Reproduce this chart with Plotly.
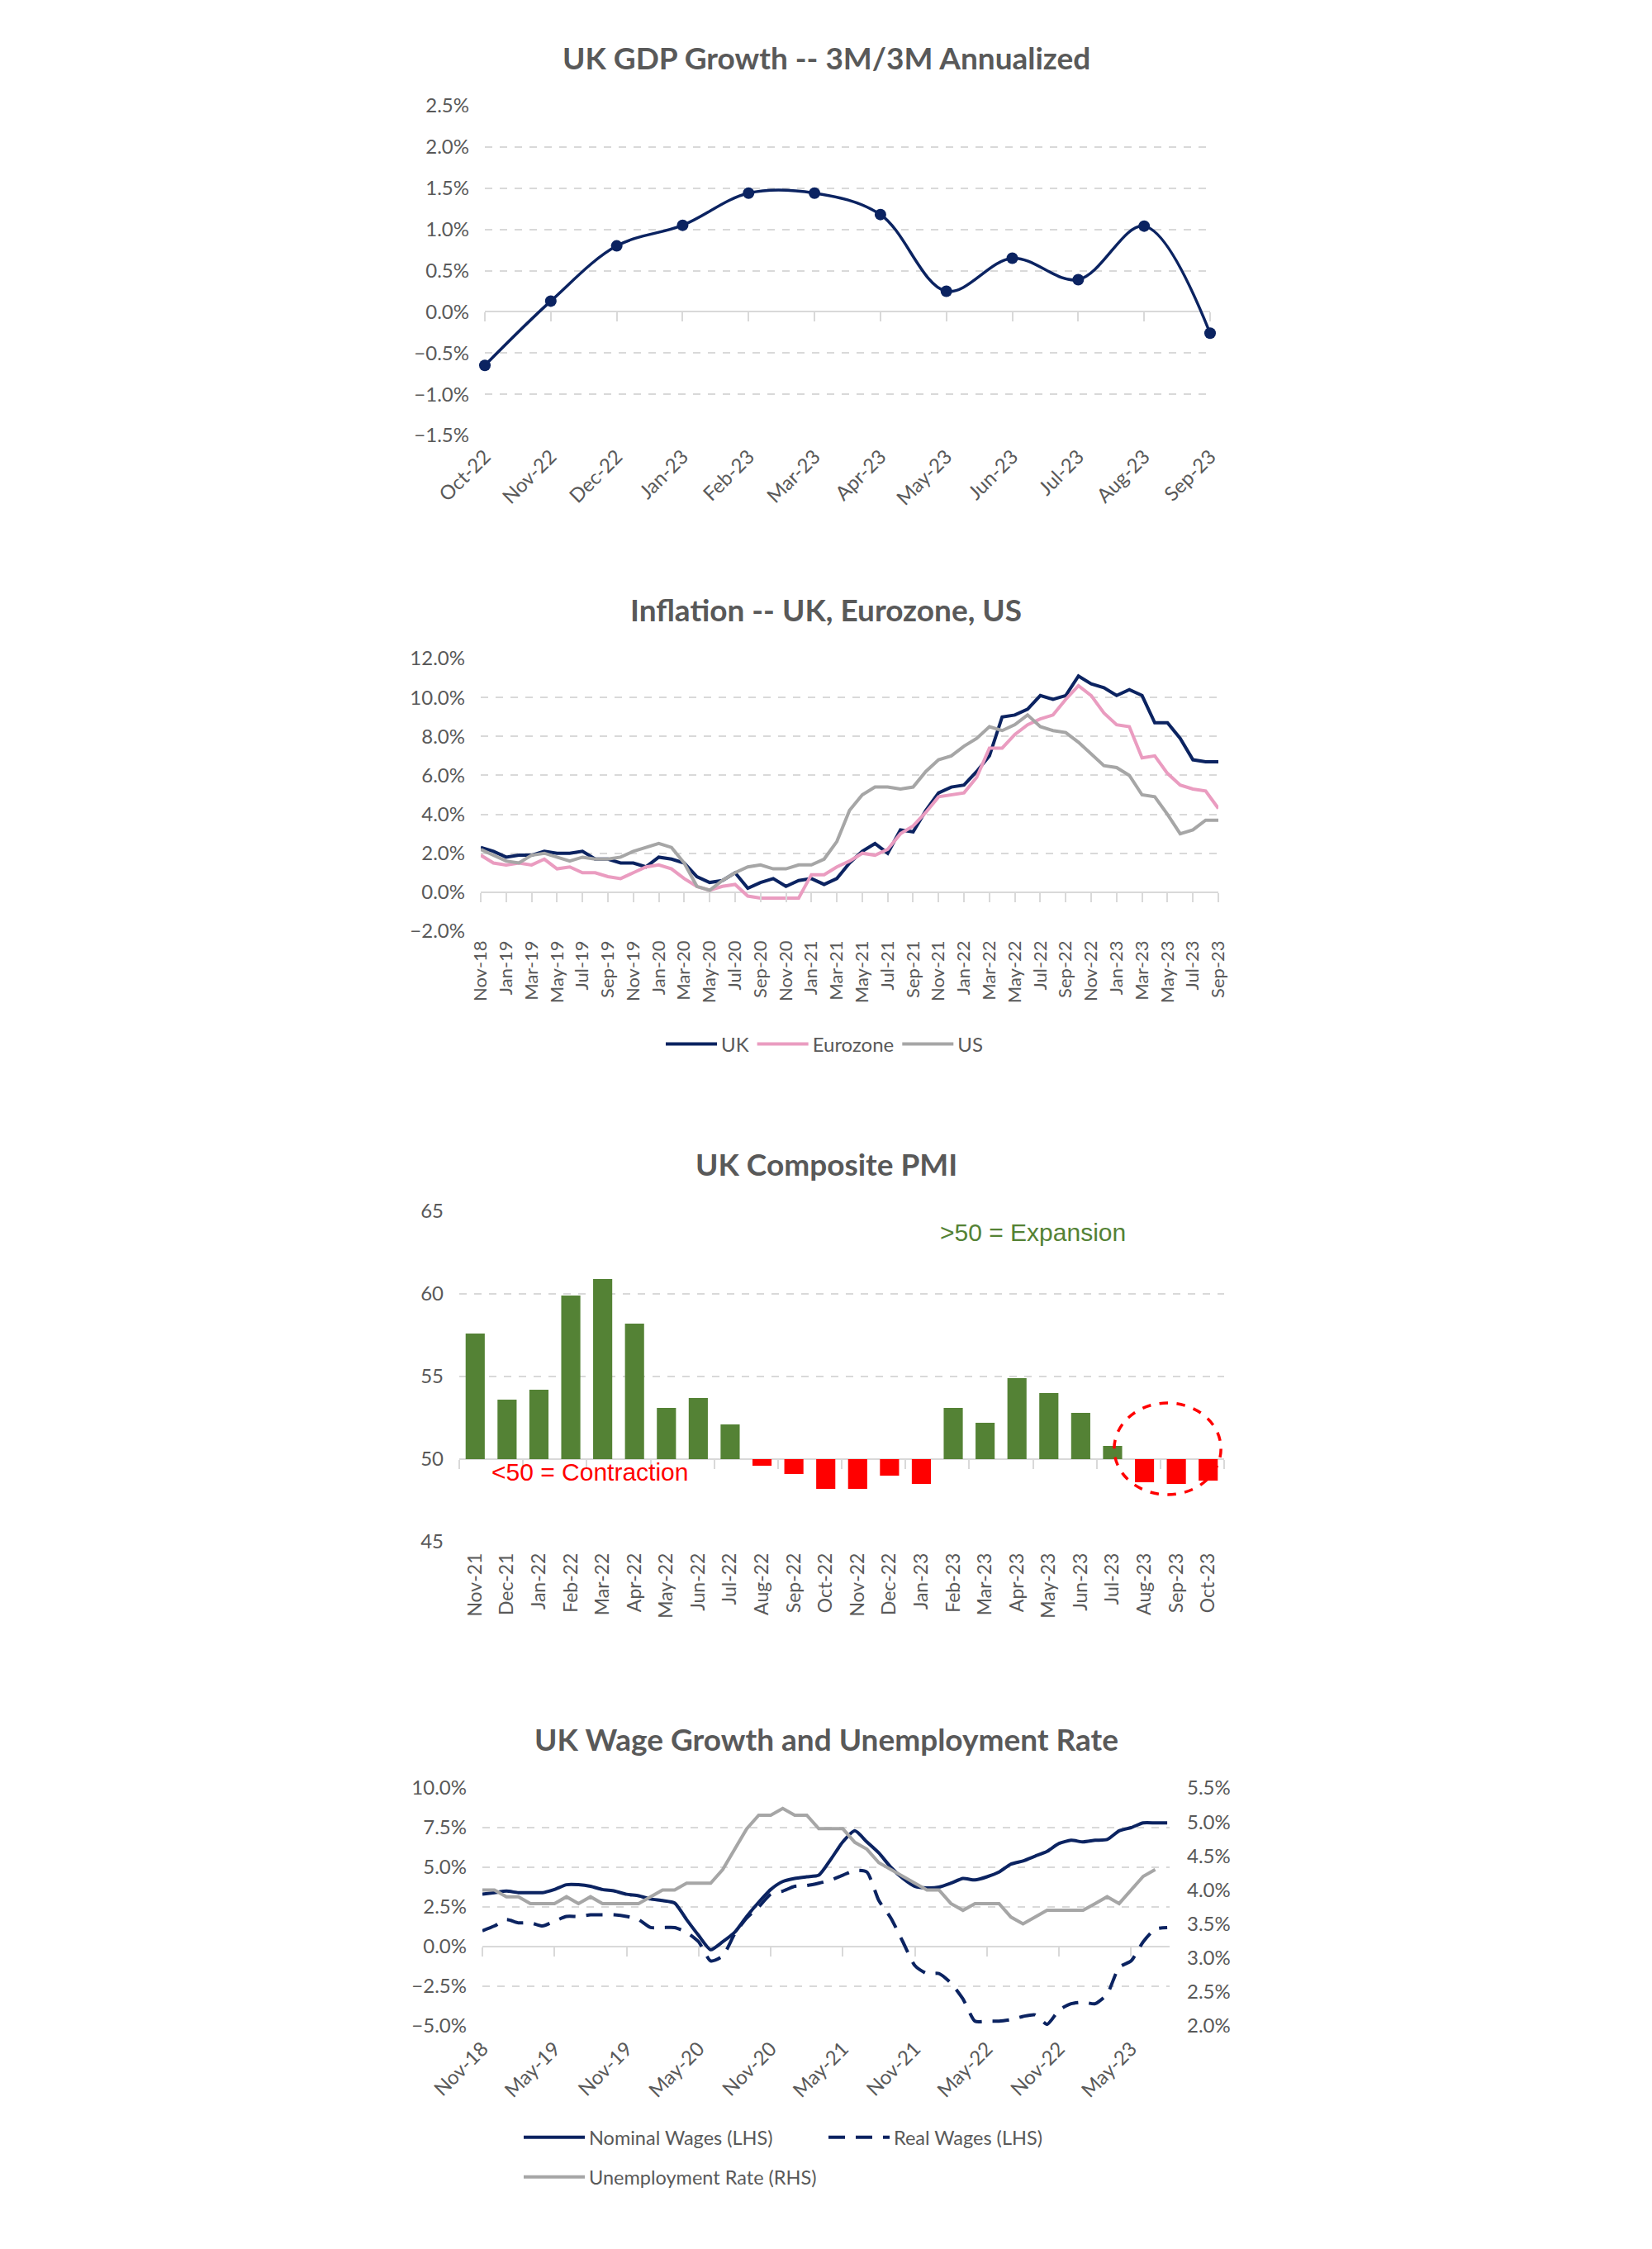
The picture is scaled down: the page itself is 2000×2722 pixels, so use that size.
import plotly.graph_objects as go
import pandas as pd

# ---------------- data ----------------
gdp_months = ["Oct-22", "Nov-22", "Dec-22", "Jan-23", "Feb-23", "Mar-23",
              "Apr-23", "May-23", "Jun-23", "Jul-23", "Aug-23", "Sep-23"]
gdp_growth = [-0.65, 0.13, 0.80, 1.05, 1.44, 1.44, 1.18, 0.25, 0.65, 0.39, 1.04, -0.26]

infl_months = [d.strftime("%b-%y") for d in pd.date_range("2018-11-01", "2023-09-01", freq="MS")]
cpi_uk = [2.3, 2.1,
          1.8, 1.9, 1.9, 2.1, 2.0, 2.0, 2.1, 1.7, 1.7, 1.5, 1.5, 1.3,
          1.8, 1.7, 1.5, 0.8, 0.5, 0.6, 1.0, 0.2, 0.5, 0.7, 0.3, 0.6,
          0.7, 0.4, 0.7, 1.5, 2.1, 2.5, 2.0, 3.2, 3.1, 4.2, 5.1, 5.4,
          5.5, 6.2, 7.0, 9.0, 9.1, 9.4, 10.1, 9.9, 10.1, 11.1, 10.7, 10.5,
          10.1, 10.4, 10.1, 8.7, 8.7, 7.9, 6.8, 6.7, 6.7]
cpi_ez = [1.9, 1.5,
          1.4, 1.5, 1.4, 1.7, 1.2, 1.3, 1.0, 1.0, 0.8, 0.7, 1.0, 1.3,
          1.4, 1.2, 0.7, 0.3, 0.1, 0.3, 0.4, -0.2, -0.3, -0.3, -0.3, -0.3,
          0.9, 0.9, 1.3, 1.6, 2.0, 1.9, 2.2, 3.0, 3.4, 4.1, 4.9, 5.0,
          5.1, 5.9, 7.4, 7.4, 8.1, 8.6, 8.9, 9.1, 9.9, 10.6, 10.1, 9.2,
          8.6, 8.5, 6.9, 7.0, 6.1, 5.5, 5.3, 5.2, 4.3]
cpi_us = [2.2, 1.9,
          1.6, 1.5, 1.9, 2.0, 1.8, 1.6, 1.8, 1.7, 1.7, 1.8, 2.1, 2.3,
          2.5, 2.3, 1.5, 0.3, 0.1, 0.6, 1.0, 1.3, 1.4, 1.2, 1.2, 1.4,
          1.4, 1.7, 2.6, 4.2, 5.0, 5.4, 5.4, 5.3, 5.4, 6.2, 6.8, 7.0,
          7.5, 7.9, 8.5, 8.3, 8.6, 9.1, 8.5, 8.3, 8.2, 7.7, 7.1, 6.5,
          6.4, 6.0, 5.0, 4.9, 4.0, 3.0, 3.2, 3.7, 3.7]

pmi_months = ["Nov-21", "Dec-21", "Jan-22", "Feb-22", "Mar-22", "Apr-22", "May-22", "Jun-22",
              "Jul-22", "Aug-22", "Sep-22", "Oct-22", "Nov-22", "Dec-22", "Jan-23", "Feb-23",
              "Mar-23", "Apr-23", "May-23", "Jun-23", "Jul-23", "Aug-23", "Sep-23", "Oct-23"]
pmi_values = [57.6, 53.6, 54.2, 59.9, 60.9, 58.2, 53.1, 53.7, 52.1, 49.6, 49.1, 48.2,
              48.2, 49.0, 48.5, 53.1, 52.2, 54.9, 54.0, 52.8, 50.8, 48.6, 48.5, 48.7]

wage_months = [d.strftime("%b-%y") for d in pd.date_range("2018-11-01", "2023-08-01", freq="MS")]
wage_tick_labels = ["Nov-18", "May-19", "Nov-19", "May-20", "Nov-20", "May-21",
                    "Nov-21", "May-22", "Nov-22", "May-23"]
nominal_wages = [3.3, 3.4,
                 3.5, 3.4, 3.4, 3.4, 3.6, 3.9, 3.9, 3.8, 3.6, 3.5, 3.3, 3.2,
                 3.0, 2.9, 2.75, 1.7, 0.7, -0.2, 0.3, 0.9, 1.9, 2.8, 3.6, 4.1,
                 4.3, 4.4, 4.5, 5.5, 6.6, 7.3, 6.6, 5.9, 5.0, 4.3, 3.8, 3.7,
                 3.75, 4.0, 4.3, 4.2, 4.4, 4.7, 5.2, 5.4, 5.7, 6.0, 6.5, 6.7,
                 6.6, 6.7, 6.75, 7.3, 7.5, 7.8, 7.8, 7.8]
real_wages = [1.0, 1.3,
              1.7, 1.5, 1.5, 1.3, 1.6, 1.9, 1.9, 2.0, 2.0, 2.0, 1.9, 1.7,
              1.2, 1.2, 1.2, 0.9, 0.3, -0.9, -0.6, 0.8, 1.8, 2.5, 3.3, 3.5,
              3.8, 3.85, 4.0, 4.2, 4.5, 4.8, 4.7, 2.9, 1.8, 0.3, -1.2, -1.7,
              -1.7, -2.3, -3.3, -4.7, -4.7, -4.7, -4.6, -4.4, -4.3, -4.9, -4.0, -3.6,
              -3.5, -3.6, -3.0, -1.3, -0.9, 0.3, 1.1, 1.2]
unemployment = [4.0, 4.0,
                3.9, 3.9, 3.8, 3.8, 3.8, 3.9, 3.8, 3.9, 3.8, 3.8, 3.8, 3.8,
                3.9, 4.0, 4.0, 4.1, 4.1, 4.1, 4.3, 4.6, 4.9, 5.1, 5.1, 5.2,
                5.1, 5.1, 4.9, 4.9, 4.9, 4.7, 4.6, 4.4, 4.3, 4.2, 4.1, 4.0,
                4.0, 3.8, 3.7, 3.8, 3.8, 3.8, 3.6, 3.5, 3.6, 3.7, 3.7, 3.7,
                3.7, 3.8, 3.9, 3.8, 4.0, 4.2, 4.3]

# ---------------- style ----------------
W, H = 2000, 2722
OFF = 8  # browser body margin
NAVY = "#0B2361"
PINK = "#EA9CC0"
GREY = "#A6A6A6"
GREEN = "#548235"
RED = "#FF0000"
TXT = "#595959"
GRID = "#D9D9D9"
FONT = "Lato"


def py(p):
    return 1 - (p - OFF) / H


def px(p):
    return (p - OFF) / W


def dom_y(top, bottom):
    return [py(bottom), py(top)]


def dom_x(left, right):
    return [px(left), px(right)]


fig = go.Figure()

# ---------- chart 1: GDP ----------
gx = list(range(len(gdp_months)))
fig.add_trace(go.Scatter(x=gx, y=gdp_growth, mode="lines+markers",
                         line=dict(color=NAVY, width=3.5, shape="spline", smoothing=1.0),
                         marker=dict(color=NAVY, size=14), cliponaxis=False,
                         showlegend=False, xaxis="x", yaxis="y"))
fig.add_trace(go.Scatter(x=gx, y=gdp_growth, mode="lines", line=dict(width=0),
                         opacity=0, showlegend=False, hoverinfo="skip", xaxis="x5", yaxis="y"))

# ---------- chart 2: inflation ----------
ix = list(range(len(infl_months)))
for name, vals, col in [("UK", cpi_uk, NAVY), ("Eurozone", cpi_ez, PINK), ("US", cpi_us, GREY)]:
    fig.add_trace(go.Scatter(x=ix, y=vals, mode="lines", name=name,
                             line=dict(color=col, width=4), legend="legend",
                             xaxis="x2", yaxis="y2"))
fig.add_trace(go.Scatter(x=ix, y=cpi_uk, mode="lines", line=dict(width=0), opacity=0,
                         showlegend=False, hoverinfo="skip", xaxis="x6", yaxis="y2"))

# ---------- chart 3: PMI ----------
bx = list(range(len(pmi_months)))
fig.add_trace(go.Bar(x=bx, y=[v - 50 for v in pmi_values], base=50, width=0.6,
                     marker=dict(color=[GREEN if v >= 50 else RED for v in pmi_values], line=dict(width=0)),
                     showlegend=False, xaxis="x3", yaxis="y3"))
fig.add_trace(go.Scatter(x=bx, y=pmi_values, mode="lines", line=dict(width=0), opacity=0,
                         showlegend=False, hoverinfo="skip", xaxis="x7", yaxis="y3"))

# ---------- chart 4: wages ----------
wx = list(range(len(wage_months)))
fig.add_trace(go.Scatter(x=wx, y=nominal_wages, mode="lines", name="Nominal Wages (LHS)",
                         line=dict(color=NAVY, width=4, shape="spline", smoothing=0.6),
                         legend="legend2", xaxis="x4", yaxis="y4"))
fig.add_trace(go.Scatter(x=wx, y=real_wages, mode="lines", name="Real Wages (LHS)",
                         line=dict(color=NAVY, width=4, dash="20px,13px", shape="spline", smoothing=0.6),
                         legend="legend2", xaxis="x4", yaxis="y4"))
fig.add_trace(go.Scatter(x=wx[:len(unemployment)], y=unemployment, mode="lines",
                         name="Unemployment Rate (RHS)",
                         line=dict(color=GREY, width=4), legend="legend3",
                         xaxis="x4", yaxis="y5"))
fig.add_trace(go.Scatter(x=wx, y=nominal_wages, mode="lines", line=dict(width=0), opacity=0,
                         showlegend=False, hoverinfo="skip", xaxis="x8", yaxis="y4"))

# ---------- axes ----------
tickfont = dict(family=FONT, size=24, color=TXT)
ybase = dict(showline=False, showgrid=True, gridcolor=GRID, griddash="dash", gridwidth=2,
             zeroline=False, ticks="", tickfont=tickfont, ticklabelstandoff=18, fixedrange=True,
             automargin=False)
xbase = dict(showline=False, showgrid=False, zeroline=False, ticks="", tickfont=tickfont,
             fixedrange=True, automargin=False)
tickaxis = dict(showline=False, showgrid=False, zeroline=False, showticklabels=False,
                ticks="outside", ticklen=11, tickwidth=2, tickcolor=GRID, anchor="free",
                automargin=False)

c1 = dict(x=dom_x(587, 1465), y=dom_y(128, 527), yr=[-1.5, 2.5])
c2 = dict(x=dom_x(582, 1475), y=dom_y(797, 1127), yr=[-2, 12])
c3 = dict(x=dom_x(556, 1482), y=dom_y(1466, 1866), yr=[45, 65])
c4 = dict(x=dom_x(584, 1416), y=dom_y(2164, 2452), yr=[-5, 10])


def base_pos(c, val):
    lo, hi = c["yr"]
    return c["y"][0] + (val - lo) / (hi - lo) * (c["y"][1] - c["y"][0])


fig.update_layout(
    xaxis=dict(xbase, domain=c1["x"], anchor="y", range=[0, 11], tickvals=gx, ticktext=gdp_months,
               tickangle=-45, ticklabelstandoff=6),
    yaxis=dict(ybase, domain=c1["y"], anchor="x", range=c1["yr"], dtick=0.5,
               tickformat=".1f", ticksuffix="%", zeroline=True, zerolinecolor=GRID, zerolinewidth=2),
    xaxis5=dict(tickaxis, overlaying="x", range=[0, 11], tickvals=gx,
                position=base_pos(c1, 0)),

    xaxis2=dict(xbase, domain=c2["x"], anchor="y2", range=[0, 58], tickvals=ix[::2],
                ticktext=infl_months[::2], tickangle=-90, tickfont=dict(tickfont, size=22),
                ticklabelstandoff=6),
    yaxis2=dict(ybase, domain=c2["y"], anchor="x2", range=c2["yr"], dtick=2,
                tickformat=".1f", ticksuffix="%", zeroline=True, zerolinecolor=GRID, zerolinewidth=2),
    xaxis6=dict(tickaxis, overlaying="x2", range=[0, 58], tickvals=ix[::2],
                position=base_pos(c2, 0)),

    xaxis3=dict(xbase, domain=c3["x"], anchor="y3", range=[-0.5, 23.5], tickvals=bx,
                ticktext=pmi_months, tickangle=-90, tickfont=dict(tickfont, size=23),
                ticklabelstandoff=8),
    yaxis3=dict(ybase, domain=c3["y"], anchor="x3", range=c3["yr"], dtick=5),
    xaxis7=dict(tickaxis, overlaying="x3", range=[-0.5, 23.5],
                tickvals=[i - 0.5 for i in range(0, 25, 2)], position=base_pos(c3, 50)),

    xaxis4=dict(xbase, domain=c4["x"], anchor="y4", range=[0, 57.2], tickvals=wx[::6],
                ticktext=wage_tick_labels, tickangle=-45, ticklabelstandoff=8),
    yaxis4=dict(ybase, domain=c4["y"], anchor="x4", range=c4["yr"], dtick=2.5,
                tickformat=".1f", ticksuffix="%", zeroline=True, zerolinecolor=GRID, zerolinewidth=2),
    yaxis5=dict(ybase, overlaying="y4", side="right", anchor="x4", range=[2.0, 5.5], dtick=0.5,
                showgrid=False, tickformat=".1f", ticksuffix="%", ticklabelstandoff=20),
    xaxis8=dict(tickaxis, overlaying="x4", range=[0, 57.2], tickvals=wx[::6],
                position=base_pos(c4, 0)),
)

# ---------- titles ----------
titles = [("UK GDP Growth -- 3M/3M Annualized", 69),
          ("Inflation -- UK, Eurozone, US", 738),
          ("UK Composite PMI", 1408),
          ("UK Wage Growth and Unemployment Rate", 2104)]
for text, yc in titles:
    fig.add_annotation(text=f"<b>{text}</b>", x=px(1000), xref="paper", y=py(yc), yref="paper",
                       xanchor="center", yanchor="middle", showarrow=False,
                       font=dict(family=FONT, size=37, color=TXT))

# ---------- PMI decorations ----------
fig.add_shape(type="line", xref="x3 domain", x0=0, x1=1, yref="y3", y0=50, y1=50,
              line=dict(color=GRID, width=2), layer="below")
fig.add_shape(type="circle", xref="x3", yref="y3", x0=20.05, x1=23.4, y0=47.85, y1=53.4,
              line=dict(color=RED, width=3.5, dash="dash"))
fig.add_annotation(text=">50 = Expansion", xref="x3", yref="y3", x=17.5, y=63.75,
                   showarrow=False, xanchor="center", yanchor="middle",
                   font=dict(family="Liberation Sans", size=30, color=GREEN))
fig.add_annotation(text="<50 = Contraction", xref="x3", yref="y3", x=3.6, y=49.25,
                   showarrow=False, xanchor="center", yanchor="middle",
                   font=dict(family="Liberation Sans", size=30, color=RED))

# ---------- legends ----------
legfont = dict(family=FONT, size=24, color=TXT)
fig.update_layout(
    legend=dict(orientation="h", x=px(998), xanchor="center", y=py(1264), yanchor="middle",
                font=legfont, bgcolor="rgba(0,0,0,0)", itemwidth=62),
    legend2=dict(orientation="h", x=px(629), xanchor="left", y=py(2587), yanchor="middle",
                 font=dict(legfont, size=23.5), bgcolor="rgba(0,0,0,0)", entrywidth=280,
                 entrywidthmode="pixels", itemwidth=74),
    legend3=dict(orientation="h", x=px(629), xanchor="left", y=py(2635), yanchor="middle",
                 font=dict(legfont, size=23.5), bgcolor="rgba(0,0,0,0)", itemwidth=74),
)

fig.update_layout(width=W, height=H, autosize=False,
                  margin=dict(l=0, r=0, t=0, b=0, autoexpand=False),
                  paper_bgcolor="white", plot_bgcolor="white",
                  font=dict(family=FONT, color=TXT), bargap=0.4)

fig.write_html("out.html")
